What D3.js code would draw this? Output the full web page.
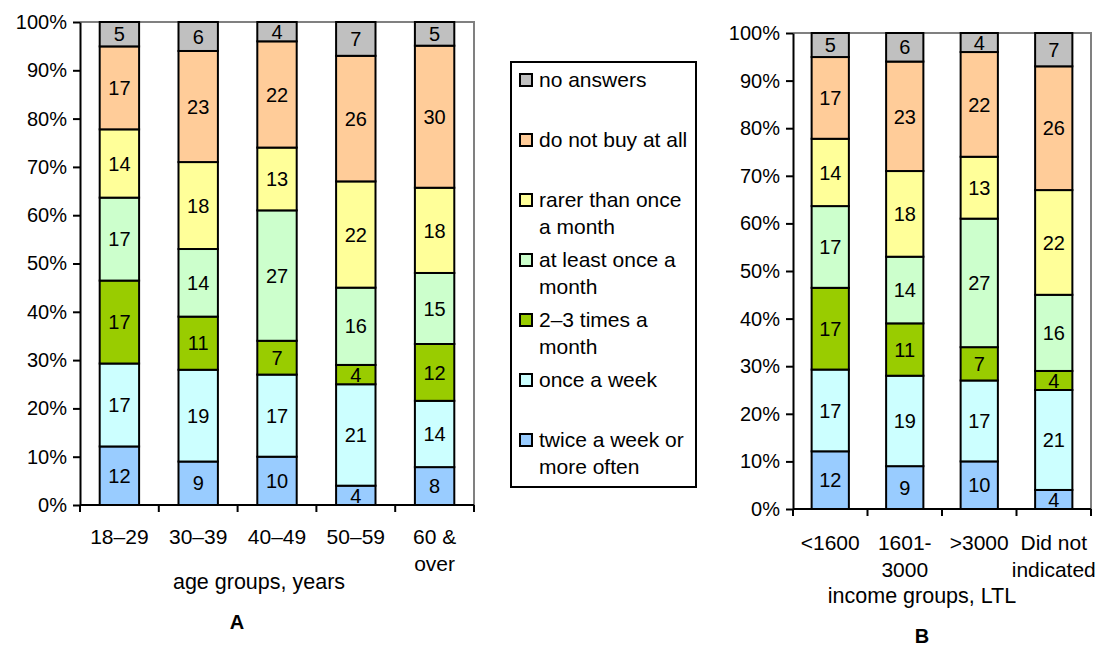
<!DOCTYPE html>
<html>
<head>
<meta charset="utf-8">
<script src="https://cdn.jsdelivr.net/npm/d3@7"></script>
<style>
  body { margin: 0; background: #fff; }
  svg text { font-family: Arial, "Liberation Sans", sans-serif; fill: #000; }
</style>
</head>
<body>
<svg id="chart" width="1101" height="647"></svg>
<script>
// series, bottom of the bar first
var seriesNames = ['twice a week or more often', 'once a week', '2–3 times a month',
    'at least once a month', 'rarer than once a month', 'do not buy at all', 'no answers'];
var seriesColors = ['#99CCFF', '#CCFFFF', '#99CC00', '#CCFFCC', '#FFFF99', '#FFCC99', '#C0C0C0'];

// legend reads top to bottom, wrapped like the original
var legendLines = [
    ['no answers'],
    ['do not buy at all'],
    ['rarer than once', 'a month'],
    ['at least once a', 'month'],
    ['2–3 times a', 'month'],
    ['once a week'],
    ['twice a week or', 'more often']
];

// panel A: age groups
var ageGroups = ['18–29', '30–39', '40–49', '50–59', '60 &\nover'];
var ageValues = [
    [12, 17, 17, 17, 14, 17, 5],
    [9, 19, 11, 14, 18, 23, 6],
    [10, 17, 7, 27, 13, 22, 4],
    [4, 21, 4, 16, 22, 26, 7],
    [8, 14, 12, 15, 18, 30, 5]
];

// panel B: income groups
var incomeGroups = ['<1600', '1601-\n3000', '>3000', 'Did not\nindicated'];
var incomeValues = [
    [12, 17, 17, 17, 14, 17, 5],
    [9, 19, 11, 14, 18, 23, 6],
    [10, 17, 7, 27, 13, 22, 4],
    [4, 21, 4, 16, 22, 26, 7]
];

var yTicks = [0, 0.1, 0.2, 0.3, 0.4, 0.5, 0.6, 0.7, 0.8, 0.9, 1];

/**
 * 100% stacked column panel
 */
function StackPanel(svg, opts) {
    var self = this;
    self.svg = svg;
    self.opts = opts;
    self.init();
}

StackPanel.prototype.init = function () {
    var self = this;
    var o = self.opts;

    var rows = o.categories.map(function (c, i) {
        var r = {cat: c};
        seriesNames.forEach(function (s, j) { r[s] = o.values[i][j]; });
        return r;
    });

    self.x = d3.scaleBand().domain(o.categories).range([o.left, o.right]).paddingInner(0.5).paddingOuter(0.25);
    self.y = d3.scaleLinear().domain([0, 1]).range([o.bottom, o.top]);

    var stack = d3.stack().keys(seriesNames).offset(d3.stackOffsetExpand);
    var layers = stack(rows);

    var g = self.svg.append('g');

    // plot area frame (top and right in grey)
    g.append('path')
        .attr('d', 'M' + o.left + ',' + o.top + 'H' + o.right + 'V' + o.bottom)
        .attr('fill', 'none')
        .attr('stroke', '#808080')
        .attr('stroke-width', 2);

    var layer = g.selectAll('.layer')
        .data(layers)
        .enter().append('g')
        .attr('class', 'layer')
        .attr('fill', function (d, i) { return seriesColors[i]; });

    layer.selectAll('rect')
        .data(function (d) { return d; })
        .enter().append('rect')
        .attr('x', function (d) { return self.x(d.data.cat); })
        .attr('width', self.x.bandwidth())
        .attr('y', function (d) { return self.y(d[1]); })
        .attr('height', function (d) { return self.y(d[0]) - self.y(d[1]); })
        .attr('stroke', '#000')
        .attr('stroke-width', 2);

    layer.selectAll('text')
        .data(function (d) { return d.map(function (p) { p.key = d.key; return p; }); })
        .enter().append('text')
        .attr('x', function (d) { return self.x(d.data.cat) + self.x.bandwidth() / 2; })
        .attr('y', function (d) { return (self.y(d[0]) + self.y(d[1])) / 2; })
        .attr('dy', '0.36em')
        .attr('text-anchor', 'middle')
        .style('font-size', '20px')
        .text(function (d) { return d.data[d.key]; });

    // y axis
    var yAxis = g.append('g')
        .attr('transform', 'translate(' + o.left + ',0)')
        .call(d3.axisLeft(self.y).tickValues(yTicks).tickFormat(d3.format('.0%')).tickSize(7).tickSizeOuter(0));
    yAxis.select('.domain').attr('stroke', '#000').attr('stroke-width', 2);
    yAxis.selectAll('.tick line').attr('stroke', '#000').attr('stroke-width', 2);
    yAxis.selectAll('.tick text')
        .attr('x', -13)
        .attr('fill', '#000')
        .style('font-size', '20px')
        .style('font-family', 'Arial, "Liberation Sans", sans-serif');

    // x axis: baseline and ticks on band boundaries
    var step = self.x.step();
    var bounds = d3.range(o.categories.length + 1).map(function (i) { return o.left + i * step; });
    g.append('line')
        .attr('x1', o.left).attr('x2', o.right)
        .attr('y1', o.bottom).attr('y2', o.bottom)
        .attr('stroke', '#000').attr('stroke-width', 2);
    g.selectAll('.xtick')
        .data(bounds)
        .enter().append('line')
        .attr('class', 'xtick')
        .attr('x1', function (d) { return d; }).attr('x2', function (d) { return d; })
        .attr('y1', o.bottom).attr('y2', o.bottom + 7)
        .attr('stroke', '#000').attr('stroke-width', 2);

    var catLabel = g.selectAll('.cat')
        .data(o.categories)
        .enter().append('text')
        .attr('class', 'cat')
        .attr('text-anchor', 'middle')
        .style('font-size', '21px');
    catLabel.selectAll('tspan')
        .data(function (d) { return d.split('\n').map(function (t) { return {cat: d, t: t}; }); })
        .enter().append('tspan')
        .attr('x', function (d) { return self.x(d.cat) + self.x.bandwidth() / 2; })
        .attr('y', function (d, i) { return o.catY + i * 27; })
        .text(function (d) { return d.t; });

    g.append('text')
        .attr('x', o.titleX).attr('y', o.titleY)
        .attr('text-anchor', 'middle')
        .style('font-size', '21.5px')
        .text(o.title);

    g.append('text')
        .attr('x', o.letterX).attr('y', o.letterY)
        .attr('text-anchor', 'middle')
        .style('font-size', '20px')
        .style('font-weight', 'bold')
        .text(o.letter);
};

var svg = d3.select('#chart');

new StackPanel(svg, {
    categories: ageGroups, values: ageValues,
    left: 80, right: 474, top: 22, bottom: 505,
    catY: 544, title: 'age groups, years', titleX: 259, titleY: 589,
    letter: 'A', letterX: 237, letterY: 629
});

new StackPanel(svg, {
    categories: incomeGroups, values: incomeValues,
    left: 793, right: 1091, top: 33, bottom: 509,
    catY: 550, title: 'income groups, LTL', titleX: 922, titleY: 603,
    letter: 'B', letterX: 922, letterY: 643
});

// legend
var legend = svg.append('g').attr('transform', 'translate(511,62)');
legend.append('rect')
    .attr('width', 185).attr('height', 425)
    .attr('fill', '#fff').attr('stroke', '#000').attr('stroke-width', 2);

var item = legend.selectAll('.item')
    .data(legendLines)
    .enter().append('g')
    .attr('class', 'item')
    .attr('transform', function (d, i) { return 'translate(0,' + (18 + i * 60) + ')'; });

item.append('rect')
    .attr('x', 9).attr('y', -6)
    .attr('width', 12).attr('height', 12)
    .attr('fill', function (d, i) { return seriesColors[seriesColors.length - 1 - i]; })
    .attr('stroke', '#000').attr('stroke-width', 2);

item.append('text')
    .style('font-size', '21px')
    .selectAll('tspan')
    .data(function (d) { return d; })
    .enter().append('tspan')
    .attr('x', 28)
    .attr('y', function (d, i) { return 7 + i * 27; })
    .text(function (d) { return d; });
</script>
</body>
</html>
